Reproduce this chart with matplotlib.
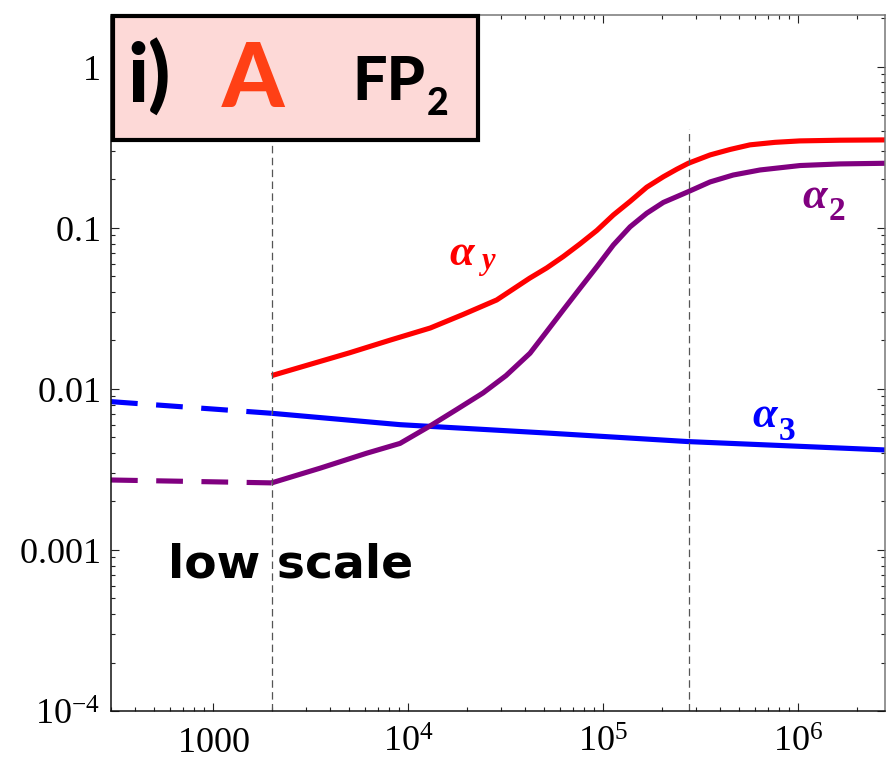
import matplotlib
matplotlib.use("Agg")
import matplotlib.pyplot as plt
from matplotlib.patches import Rectangle
from matplotlib.ticker import FixedLocator, FixedFormatter, LogLocator, NullFormatter

plt.rcParams["mathtext.fontset"] = "custom"
plt.rcParams["mathtext.rm"] = "Liberation Serif"
plt.rcParams["mathtext.it"] = "Liberation Serif:italic"
plt.rcParams["mathtext.bf"] = "Liberation Serif:bold"

# Running scale mu (GeV) and gauge / Yukawa couplings
mu_low = [300, 2000]
alpha3_low = [0.00834, 0.00706]
alpha2_low = [0.00272, 0.00261]

mu_y = [2000, 5000, 8100, 13000, 19150, 28500, 42000, 51400, 62500, 76200,
        93000, 113000, 137500, 167500, 204000, 238800, 273700, 354000,
        447700, 567000, 762000, 1.02e6, 1.64e6, 2.79e6]
alpha_y = [0.0121, 0.01675, 0.0201, 0.0239, 0.0290, 0.0357, 0.0487, 0.0564,
           0.0664, 0.0796, 0.0965, 0.1204, 0.146, 0.179, 0.208, 0.2315, 0.252,
           0.284, 0.307, 0.328, 0.340, 0.347, 0.3505, 0.352]

mu_2 = [2000, 3540, 6140, 9100, 12970, 17620, 24270, 31800, 42230, 51400,
        62570, 76200, 92830, 113000, 137550, 167500, 203800, 238800, 273700,
        353800, 464500, 638000, 1.024e6, 1.64e6, 2.79e6]
alpha_2 = [0.00261, 0.00322, 0.00399, 0.00459, 0.00589, 0.00741, 0.00945,
           0.0121, 0.01667, 0.0227, 0.0310, 0.0422, 0.0573, 0.0784, 0.1015,
           0.1234, 0.144, 0.1564, 0.168, 0.193, 0.213, 0.229, 0.244, 0.2497,
           0.252]

mu_3 = [2000, 9100, 53400, 273700, 2.79e6]
alpha_3 = [0.00706, 0.0060, 0.00531, 0.00471, 0.00418]

thresholds = [2000, 2.75e5]
threshold_top = 0.41

x_ticks = [1e3, 1e4, 1e5, 1e6]
x_tick_labels = ["$1000$", "$10^{4}$", "$10^{5}$", "$10^{6}$"]
y_ticks = [1e-4, 1e-3, 1e-2, 1e-1, 1]
y_tick_labels = ["$10^{-4}$", "$0.001$", "$0.01$", "$0.1$", "$1$"]

RED = "#ff0000"
PURPLE = "#800080"
BLUE = "#0000ff"

W, H = 888, 769
fig = plt.figure(figsize=(W / 100, H / 100), dpi=100)
ax = fig.add_axes([111 / W, 1 - 711 / H, (885 - 111) / W, (711 - 15) / H])
ax.set_xscale("log")
ax.set_yscale("log")
ax.set_xlim(300, 2.79e6)
ax.set_ylim(1e-4, 2.1)

lw = 3.7
# low-scale extrapolation (dashed)
ax.plot(mu_low, alpha3_low, color=BLUE, lw=lw, dashes=(5.2, 3.6))
ax.plot(mu_low, alpha2_low, color=PURPLE, lw=lw, dashes=(5.2, 3.6))
# running above the low scale
ax.plot(mu_3, alpha_3, color=BLUE, lw=lw, solid_capstyle="butt", solid_joinstyle="round")
ax.plot(mu_2, alpha_2, color=PURPLE, lw=lw, solid_capstyle="butt", solid_joinstyle="round")
ax.plot(mu_y, alpha_y, color=RED, lw=lw, solid_capstyle="butt", solid_joinstyle="round")

for t in thresholds:
    ax.plot([t, t], [1e-4, threshold_top], color="#555555", lw=0.9, dashes=(6, 3.5))

ax.xaxis.set_major_locator(FixedLocator(x_ticks))
ax.xaxis.set_major_formatter(FixedFormatter(x_tick_labels))
ax.yaxis.set_major_locator(FixedLocator(y_ticks))
ax.yaxis.set_major_formatter(FixedFormatter(y_tick_labels))
for a in (ax.xaxis, ax.yaxis):
    a.set_minor_locator(LogLocator(base=10, subs=range(2, 10), numticks=20))
    a.set_minor_formatter(NullFormatter())

ax.tick_params(which="both", direction="in", top=True, right=True, width=0.8, color="#222222")
ax.tick_params(which="major", length=6)
ax.tick_params(which="minor", length=3)
ax.tick_params(axis="x", which="major", labelsize=26, pad=10)
ax.tick_params(axis="y", which="major", labelsize=26, pad=8)

for side in ("left", "bottom"):
    ax.spines[side].set_color("#111111")
    ax.spines[side].set_linewidth(1.1)
for side in ("top", "right"):
    ax.spines[side].set_color("#777777")
    ax.spines[side].set_linewidth(1.1)


def fx(px):
    return px / W


def fy(py):
    return 1 - py / H


# curve labels
serif = "Liberation Serif"
fig.text(fx(449), fy(265), "α", color=RED, fontsize=32, family=serif,
         weight="bold", style="italic", ha="left", va="baseline")
fig.text(fx(481), fy(269), "y", color=RED, fontsize=22, family=serif,
         weight="bold", style="italic", ha="left", va="baseline")
fig.text(fx(802), fy(208), "α", color=PURPLE, fontsize=32, family=serif,
         weight="bold", style="italic", ha="left", va="baseline")
fig.text(fx(829), fy(220), "2", color=PURPLE, fontsize=24, family=serif,
         weight="bold", ha="left", va="baseline")
fig.text(fx(752), fy(427), "α", color=BLUE, fontsize=32, family=serif,
         weight="bold", style="italic", ha="left", va="baseline")
fig.text(fx(779), fy(440), "3", color=BLUE, fontsize=24, family=serif,
         weight="bold", ha="left", va="baseline")

# panel title box
box = Rectangle((fx(113), fy(140)), fx(478) - fx(113), fy(16) - fy(140),
                transform=fig.transFigure, facecolor="#fdd9d7",
                edgecolor="black", linewidth=3.0, zorder=10)
fig.patches.append(box)
sans = ["Lato", "DejaVu Sans"]
fig.text(fx(127), fy(103), "i)", color="black", fontsize=58, family=sans,
         weight="black", ha="left", va="baseline", zorder=11)
fig.text(fx(222), fy(107), "A", color="#ff4015", fontsize=64, family=sans,
         weight="black", ha="left", va="baseline", zorder=11)
fig.text(fx(352), fy(100), "FP", color="black", fontsize=44, family=sans,
         weight="black", ha="left", va="baseline", zorder=11)
fig.text(fx(427), fy(115), "2", color="black", fontsize=27, family=sans,
         weight="black", ha="left", va="baseline", zorder=11)

fig.text(fx(168), fy(578), "low scale", color="black", fontsize=34,
         family=["DejaVu Sans"], weight="bold", ha="left", va="baseline", zorder=11)

fig.savefig("out.png", dpi=100, facecolor="white")
